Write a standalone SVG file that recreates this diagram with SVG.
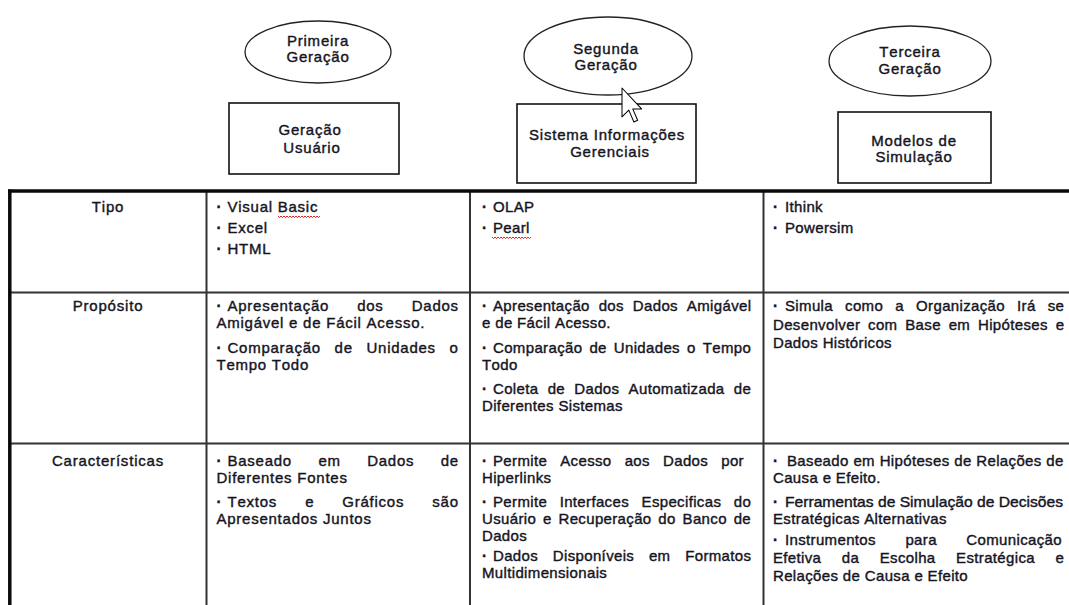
<svg xmlns="http://www.w3.org/2000/svg" width="1069" height="605" viewBox="0 0 1069 605">
  <style>
    .t { font-family: "Liberation Sans", Arial, sans-serif; font-size: 15px; fill: #15151f; stroke: #15151f; stroke-width: 0.4px; font-kerning: none; }
    .h { letter-spacing: 0.8px; text-anchor: middle; }
    .c2 { letter-spacing: 0.75px; }
    .c34 { letter-spacing: 0.35px; }
    .dot { font-weight: bold; }
    .oval { fill: #fff; stroke: #222; stroke-width: 1.3; }
    .box { fill: #fff; stroke: #111; stroke-width: 1.6; }
    .outer { stroke: #0a0a0a; stroke-width: 3.5; fill: none; }
    .inner { stroke: #333; stroke-width: 2; fill: none; }
    .squig { stroke: #e02020; stroke-width: 1; fill: none; }
  </style>

  <rect width="1069" height="605" fill="#fff"/>

  <!-- generation ovals -->
  <g id="gen1">
    <ellipse class="oval" cx="318" cy="52" rx="73" ry="31"/>
    <text class="t h" x="318" y="46">Primeira</text>
    <text class="t h" x="318" y="62">Geração</text>
  </g>
  <g id="gen2">
    <ellipse class="oval" cx="608" cy="56" rx="84" ry="39"/>
    <text class="t h" x="606" y="54">Segunda</text>
    <text class="t h" x="606" y="70">Geração</text>
  </g>
  <g id="gen3">
    <ellipse class="oval" cx="910" cy="61" rx="81" ry="35"/>
    <text class="t h" x="910" y="57">Terceira</text>
    <text class="t h" x="910" y="74">Geração</text>
  </g>

  <!-- generation boxes -->
  <g id="box1">
    <rect class="box" x="229" y="103" width="170" height="71"/>
    <text class="t h" x="310" y="135">Geração</text>
    <text class="t h" x="312" y="153">Usuário</text>
  </g>
  <g id="box2">
    <rect class="box" x="517" y="104" width="179" height="79"/>
    <text class="t h" x="607" y="140">Sistema Informações</text>
    <text class="t h" x="610" y="157">Gerenciais</text>
  </g>
  <g id="box3">
    <rect class="box" x="838" y="112" width="153" height="71"/>
    <text class="t h" x="914" y="146">Modelos de</text>
    <text class="t h" x="914" y="162">Simulação</text>
  </g>

  <!-- mouse pointer -->
  <g id="pointer" transform="translate(622 88) scale(1.7)">
    <path d="M0 0 V17 L4 13 L7 20 L9.2 19 L6.3 12.3 H11.5 Z" fill="#fff" stroke="#000" stroke-width="0.6" stroke-linejoin="round"/>
  </g>

  <!-- no connectors between the nodes -->
  <g id="connectors"></g>

  <!-- comparison table grid -->
  <g id="table-grid">
    <line class="inner" x1="9" y1="292.5" x2="1069" y2="292.5"/>
    <line class="inner" x1="9" y1="443.5" x2="1069" y2="443.5"/>
    <line class="inner" x1="206.5" y1="191" x2="206.5" y2="605"/>
    <line class="inner" x1="470" y1="191" x2="470" y2="605"/>
    <line class="inner" x1="763.5" y1="191" x2="763.5" y2="605"/>
    <line class="outer" x1="8" y1="191" x2="1069" y2="191"/>
    <line class="outer" x1="9.8" y1="189.5" x2="9.8" y2="605"/>
  </g>

  <!-- row headers -->
  <g id="row-headers">
    <text class="t h" x="108" y="212">Tipo</text>
    <text class="t h" x="108" y="311">Propósito</text>
    <text class="t h" x="108" y="466">Características</text>
  </g>

  <!-- first generation column -->
  <g id="col-gen1">
    <text class="t dot" x="216.5" y="212">·</text>
    <text class="t c2" x="227.5" y="212">Visual Basic</text>
    <text class="t dot" x="216.5" y="233">·</text>
    <text class="t c2" x="227.5" y="233">Excel</text>
    <text class="t dot" x="216.5" y="254">·</text>
    <text class="t c2" x="227.5" y="254">HTML</text>
    <path class="squig" d="M278 216 l1.5 1.6 l1.5 -1.6 l1.5 1.6 l1.5 -1.6 l1.5 1.6 l1.5 -1.6 l1.5 1.6 l1.5 -1.6 l1.5 1.6 l1.5 -1.6 l1.5 1.6 l1.5 -1.6 l1.5 1.6 l1.5 -1.6 l1.5 1.6 l1.5 -1.6 l1.5 1.6 l1.5 -1.6 l1.5 1.6 l1.5 -1.6 l1.5 1.6 l1.5 -1.6 l1.5 1.6 l1.5 -1.6 l1.5 1.6 l1.5 -1.6 l1.5 1.6 l1.5 -1.6"/>

    <text class="t dot" x="216.5" y="311">·</text>
    <text class="t c2" x="227.5" y="311" word-spacing="23.2">Apresentação dos Dados</text>
    <text class="t c2" x="216.5" y="328">Amigável e de Fácil Acesso.</text>
    <text class="t dot" x="216.5" y="353">·</text>
    <text class="t c2" x="227.5" y="353" word-spacing="8.8">Comparação de Unidades o</text>
    <text class="t c2" x="216.5" y="370">Tempo Todo</text>

    <text class="t dot" x="216.5" y="466">·</text>
    <text class="t c2" x="227.5" y="466" word-spacing="21.5">Baseado em Dados de</text>
    <text class="t c2" x="216.5" y="483">Diferentes Fontes</text>
    <text class="t dot" x="216.5" y="507">·</text>
    <text class="t c2" x="227.5" y="507" word-spacing="23.2">Textos e Gráficos são</text>
    <text class="t c2" x="216.5" y="524">Apresentados Juntos</text>
  </g>

  <!-- second generation column -->
  <g id="col-gen2">
    <text class="t dot" x="482" y="212">·</text>
    <text class="t c34" x="493" y="212">OLAP</text>
    <text class="t dot" x="482" y="233">·</text>
    <text class="t c34" x="493" y="233">Pearl</text>
    <path class="squig" d="M492 237 l1.5 1.6 l1.5 -1.6 l1.5 1.6 l1.5 -1.6 l1.5 1.6 l1.5 -1.6 l1.5 1.6 l1.5 -1.6 l1.5 1.6 l1.5 -1.6 l1.5 1.6 l1.5 -1.6 l1.5 1.6 l1.5 -1.6 l1.5 1.6 l1.5 -1.6 l1.5 1.6 l1.5 -1.6 l1.5 1.6 l1.5 -1.6 l1.5 1.6 l1.5 -1.6 l1.5 1.6 l1.5 -1.6 l1.5 1.6 l1.5 -1.6"/>

    <text class="t dot" x="482" y="311">·</text>
    <text class="t c34" x="493" y="311" word-spacing="4.4">Apresentação dos Dados Amigável</text>
    <text class="t c34" x="482" y="328">e de Fácil Acesso.</text>
    <text class="t dot" x="482" y="353">·</text>
    <text class="t c34" x="493" y="353" word-spacing="2.5">Comparação de Unidades o Tempo</text>
    <text class="t c34" x="482" y="370">Todo</text>
    <text class="t dot" x="482" y="394">·</text>
    <text class="t c34" x="493" y="394" word-spacing="4.7">Coleta de Dados Automatizada de</text>
    <text class="t c34" x="482" y="411">Diferentes Sistemas</text>

    <text class="t dot" x="482" y="466">·</text>
    <text class="t c34" x="493" y="466" word-spacing="8.6">Permite Acesso aos Dados por</text>
    <text class="t c34" x="482" y="483">Hiperlinks</text>
    <text class="t dot" x="482" y="507">·</text>
    <text class="t c34" x="493" y="507" word-spacing="8">Permite Interfaces Especificas do</text>
    <text class="t c34" x="482" y="524" word-spacing="2.3">Usuário e Recuperação do Banco de</text>
    <text class="t c34" x="482" y="541">Dados</text>
    <text class="t dot" x="482" y="561">·</text>
    <text class="t c34" x="493" y="561" word-spacing="10.2">Dados Disponíveis em Formatos</text>
    <text class="t c34" x="482" y="578">Multidimensionais</text>
  </g>

  <!-- third generation column -->
  <g id="col-gen3">
    <text class="t dot" x="773" y="212">·</text>
    <text class="t c34" x="785" y="212">Ithink</text>
    <text class="t dot" x="773" y="233">·</text>
    <text class="t c34" x="785" y="233">Powersim</text>

    <text class="t dot" x="773" y="311">·</text>
    <text class="t c34" x="785" y="311" word-spacing="7.6">Simula como a Organização Irá se</text>
    <text class="t c34" x="773" y="329.5" word-spacing="3.3">Desenvolver com Base em Hipóteses e</text>
    <text class="t c34" x="773" y="348">Dados Históricos</text>

    <text class="t dot" x="773" y="466">·</text>
    <text class="t c34" x="787" y="466" word-spacing="0.2">Baseado em Hipóteses de Relações de</text>
    <text class="t c34" x="773" y="483">Causa e Efeito.</text>
    <text class="t dot" x="773" y="507">·</text>
    <text class="t" x="785" y="507" textLength="278" lengthAdjust="spacingAndGlyphs">Ferramentas de Simulação de Decisões</text>
    <text class="t c34" x="773" y="524">Estratégicas Alternativas</text>
    <text class="t dot" x="773" y="545">·</text>
    <text class="t c34" x="785" y="545" word-spacing="25">Instrumentos para Comunicação</text>
    <text class="t c34" x="773" y="563" word-spacing="16">Efetiva da Escolha Estratégica e</text>
    <text class="t c34" x="773" y="581">Relações de Causa e Efeito</text>
  </g>
</svg>
